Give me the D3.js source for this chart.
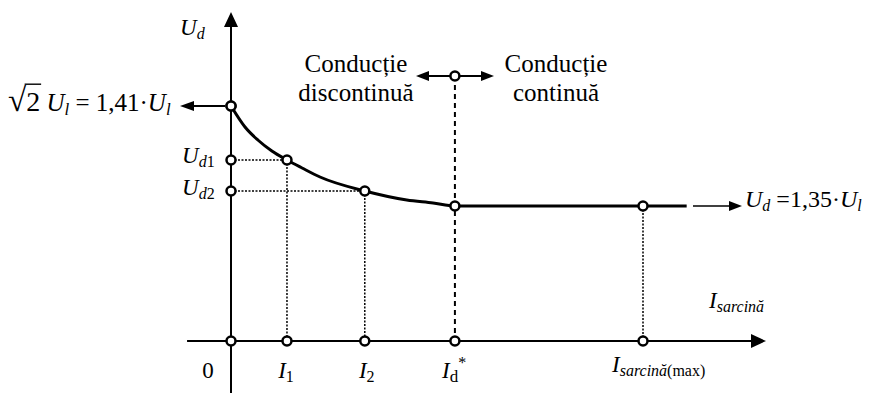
<!DOCTYPE html>
<html>
<head>
<meta charset="utf-8">
<script src="https://cdn.jsdelivr.net/npm/d3@7"></script>
<style>
  html, body { margin: 0; padding: 0; background: #fff; }
  svg { display: block; }
  text { font-family: "Liberation Serif", "Times New Roman", serif; fill: #000; }
</style>
</head>
<body>
<svg id="chart" width="871" height="394"></svg>
<script>
// Load current, in multiples of I1
const currentMarks = [0, 1, 2.39, 4, 7.36];            // 0, I1, I2, Id*, Isarcina(max)
// Rectified voltage Ud as a function of load current, in multiples of U_l
const curveCurrent = [0, 0.25, 0.48, 0.73, 1.0, 1.27, 1.59, 2.39, 3.14, 3.61, 4.0, 7.36, 8.14];
const curveVoltage = [1.41, 1.3974, 1.3896, 1.383, 1.3776, 1.3728, 1.3674, 1.359, 1.3536, 1.3518, 1.35, 1.35, 1.35];
// Operating points marked on the characteristic
const opCurrent = [0, 1, 2.39, 4, 7.36];
const opVoltage = [1.41, 1.3776, 1.359, 1.35, 1.35];
// Voltage levels marked on the Ud axis (sqrt2*Ul, Ud1, Ud2)
const levelVoltages = [1.41, 1.3776, 1.359];
// Boundary between discontinuous and continuous conduction
const boundaryCurrent = 4;
const limitVoltage = 1.35;
const peakVoltage = 1.41;
// Captions of the two conduction regimes
const regimeLeft = ["Conduc\u021Bie", "discontinu\u0103"];
const regimeRight = ["Conduc\u021Bie", "continu\u0103"];

const svg = d3.select("#chart");

const x = d3.scaleLinear().domain([0, 7.36]).range([231, 643]);
const y = d3.scaleLinear().domain([1.35, 1.41]).range([206, 106]);
const AXIS_Y = 341;         // baseline where the current axis is drawn
const BOUNDARY_Y = 76;      // height of the conduction-mode marker

function arrowHead(tipX, tipY, dir, len, half) {
  let pts;
  if (dir === "up") pts = [[tipX, tipY], [tipX - half, tipY + len], [tipX + half, tipY + len]];
  else if (dir === "left") pts = [[tipX, tipY], [tipX + len, tipY - half], [tipX + len, tipY + half]];
  else pts = [[tipX, tipY], [tipX - len, tipY - half], [tipX - len, tipY + half]];
  svg.append("path").attr("d", "M" + pts.map(p => p.join(",")).join("L") + "Z").attr("fill", "#000");
}

function line(x1, y1, x2, y2, w, dash) {
  const l = svg.append("line").attr("x1", x1).attr("y1", y1).attr("x2", x2).attr("y2", y2)
    .attr("stroke", "#000").attr("stroke-width", w);
  if (dash) l.attr("stroke-dasharray", dash);
  return l;
}

// Rich text: parts with italic / subscript / superscript
function rich(px, py, base, parts, anchor) {
  const t = svg.append("text").attr("x", px).attr("y", py).attr("text-anchor", anchor || "start")
    .style("font-size", base + "px");
  let shift = 0;
  parts.forEach(p => {
    const ts = t.append("tspan").text(p.t);
    let size = base, target = 0;
    if (p.s === "sub") { size = Math.round(base * 0.68); target = base * 0.17; }
    if (p.s === "sup") { size = Math.round(base * 0.6); target = -base * 0.42; }
    if (p.size) size = p.size;
    ts.style("font-size", size + "px");
    if (p.i) ts.style("font-style", "italic");
    if (target !== shift) { ts.attr("dy", target - shift); shift = target; }
  });
  return t;
}

// --- projection lines ---------------------------------------------------
const dot = "2,1.5";
[1, 2].forEach(k => {
  line(x(0), y(opVoltage[k]), x(opCurrent[k]), y(opVoltage[k]), 1.5, dot);
  line(x(opCurrent[k]), y(opVoltage[k]), x(opCurrent[k]), AXIS_Y, 1.5, dot);
});
line(x(opCurrent[4]), y(opVoltage[4]), x(opCurrent[4]), AXIS_Y, 1.5, dot);
line(x(boundaryCurrent), BOUNDARY_Y, x(boundaryCurrent), AXIS_Y, 2, "5,4");

// --- axes ----------------------------------------------------------------
line(x(0), 393, x(0), 24, 2);
arrowHead(x(0), 12, "up", 15, 7);
line(x(-0.785), AXIS_Y, 753, AXIS_Y, 2);
arrowHead(766, AXIS_Y, "right", 15, 7);

// --- side arrows ---------------------------------------------------------
line(193, y(peakVoltage), x(0) - 6, y(peakVoltage), 2);
arrowHead(180, y(peakVoltage), "left", 14, 5);
line(693, y(limitVoltage), 731, y(limitVoltage), 1.6);
arrowHead(742, y(limitVoltage), "right", 13, 5);
line(428, BOUNDARY_Y, 482, BOUNDARY_Y, 2);
arrowHead(416, BOUNDARY_Y, "left", 13, 5);
arrowHead(494, BOUNDARY_Y, "right", 13, 5);

// --- characteristic curve ------------------------------------------------
const pts = curveCurrent.map((c, i) => [x(c), y(curveVoltage[i])]);
svg.append("path")
  .attr("d", d3.line().curve(d3.curveMonotoneX)(pts))
  .attr("fill", "none").attr("stroke", "#000").attr("stroke-width", 3);

// --- markers -------------------------------------------------------------
function marker(cx, cy) {
  svg.append("circle").attr("cx", cx).attr("cy", cy).attr("r", 4.5)
    .attr("fill", "#fff").attr("stroke", "#000").attr("stroke-width", 2.5);
}
currentMarks.forEach(c => marker(x(c), AXIS_Y));
levelVoltages.forEach(v => marker(x(0), y(v)));
opCurrent.forEach((c, i) => marker(x(c), y(opVoltage[i])));
marker(x(boundaryCurrent), BOUNDARY_Y);

// --- labels --------------------------------------------------------------
rich(180, 35, 23, [{t: "U", i: 1}, {t: "d", i: 1, s: "sub"}]);
rich(182, 163, 23, [{t: "U", i: 1}, {t: "d", i: 1, s: "sub"}, {t: "1", s: "sub"}]);
rich(182, 195, 23, [{t: "U", i: 1}, {t: "d", i: 1, s: "sub"}, {t: "2", s: "sub"}]);

// sqrt(2)·Ul = 1,41·Ul
const rootT = rich(8, 111, 25, [{t: "\u221A", size: 33}, {t: "2", size: 28}, {t: " U", i: 1},
  {t: "l", i: 1, s: "sub"}, {t: " = 1,41\u00B7"}, {t: "U", i: 1}, {t: "l", i: 1, s: "sub"}]);
{
  const n = rootT.node();
  const e1 = n.getExtentOfChar(0), e2 = n.getExtentOfChar(1);
  line(e1.x + e1.width - 1.5, e1.y + 2.2, e2.x + e2.width + 1, e1.y + 2.2, 1.4);
}

rich(745, 207, 24, [{t: "U", i: 1}, {t: "d", i: 1, s: "sub"}, {t: " =1,35\u00B7"},
  {t: "U", i: 1}, {t: "l", i: 1, s: "sub"}]);

// conduction regime captions
regimeLeft.forEach((s, k) =>
  svg.append("text").attr("x", 356).attr("y", 72 + k * 29).attr("text-anchor", "middle")
    .style("font-size", "25px").text(s));
regimeRight.forEach((s, k) =>
  svg.append("text").attr("x", 556).attr("y", 72 + k * 29).attr("text-anchor", "middle")
    .style("font-size", "25px").text(s));

// current-axis labels
rich(208, 378, 23, [{t: "0"}], "middle");
rich(x(currentMarks[1]) - 1, 378, 23, [{t: "I", i: 1}, {t: "1", s: "sub"}], "middle");
rich(x(currentMarks[2]) + 2, 378, 23, [{t: "I", i: 1}, {t: "2", s: "sub"}], "middle");
rich(442, 378, 23, [{t: "I", i: 1}, {t: "d", s: "sub", size: 17}, {t: "*", s: "sup", size: 16}]);
rich(612, 372, 23, [{t: "I", i: 1}, {t: "sarcin\u0103", i: 1, s: "sub"}, {t: "(max)", s: "sub"}]);
rich(709, 308, 23, [{t: "I", i: 1}, {t: "sarcin\u0103", i: 1, s: "sub"}]);
</script>
</body>
</html>
